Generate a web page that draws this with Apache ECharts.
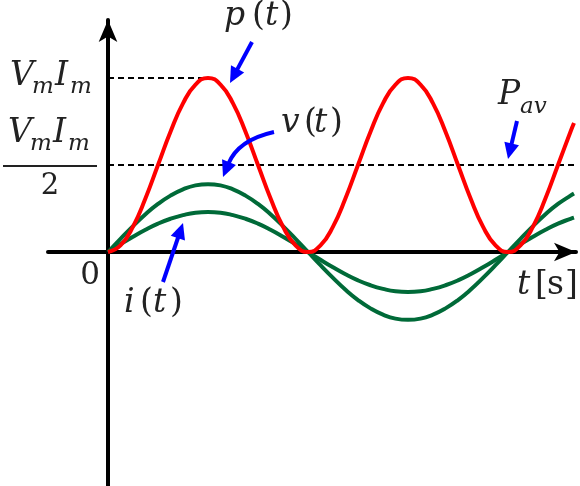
<!DOCTYPE html>
<html><head><meta charset="utf-8">
<script src="https://cdn.jsdelivr.net/npm/echarts@6/dist/echarts.min.js"></script>
<style>html,body{margin:0;padding:0;background:#fff}#c{width:580px;height:486px}</style>
</head><body><div id="c"></div>
<script>
// time samples (in quarter periods of v(t))
const tVals = [0,0.125,0.25,0.375,0.5,0.625,0.75,0.875,1,1.125,1.25,1.375,1.5,1.625,1.75,1.875,2,2.125,2.25,2.375,2.5,2.625,2.75,2.875,3,3.125,3.25,3.375,3.5,3.625,3.75,3.875,4,4.125,4.25,4.375,4.5,4.625,4.66];
// p(t) normalised to Vm*Im
const pVals = [0,0.038,0.146,0.309,0.5,0.691,0.854,0.962,1,0.962,0.854,0.691,0.5,0.309,0.146,0.038,0,0.038,0.146,0.309,0.5,0.691,0.854,0.962,1,0.962,0.854,0.691,0.5,0.309,0.146,0.038,0,0.038,0.146,0.309,0.5,0.691,0.741];
const vVals = [0,0.076,0.149,0.217,0.276,0.324,0.36,0.383,0.39,0.383,0.36,0.324,0.276,0.217,0.149,0.076,0,-0.076,-0.149,-0.217,-0.276,-0.324,-0.36,-0.383,-0.39,-0.383,-0.36,-0.324,-0.276,-0.217,-0.149,-0.076,0,0.076,0.149,0.217,0.276,0.324,0.336];
const iVals = [0,0.045,0.088,0.128,0.163,0.191,0.212,0.226,0.23,0.226,0.212,0.191,0.163,0.128,0.088,0.045,0,-0.045,-0.088,-0.128,-0.163,-0.191,-0.212,-0.226,-0.23,-0.226,-0.212,-0.191,-0.163,-0.128,-0.088,-0.045,0,0.045,0.088,0.128,0.163,0.191,0.198];
const peakLine = [[0,1],[1,1]];
const avgLine = [[0,0.5],[4.66,0.5]];

const zip = (ys) => tVals.map((t, k) => [t, ys[k]]);
const SERIF = 'DejaVu Serif';
const INK = '#222';
const BLUE = '#0000ff';
const GREEN = '#006a38';
const BIG = 33, SUB = 23;

function txt(str, x, base, size, italic, align) {
  return { type: 'text', x: x, y: base - 0.36 * size, z: 10,
    style: { text: str, font: (italic ? 'italic ' : 'normal ') + size + 'px ' + SERIF,
      fill: INK, align: align || 'left', verticalAlign: 'middle' } };
}
// function label f(t): [fx, parenX, tX, closeX]
function fnLabel(f, xs, base) {
  return [txt(f, xs[0], base, BIG, true), txt('(', xs[1], base, BIG, false),
          txt('t', xs[2], base, BIG, true), txt(')', xs[3], base, BIG, false)];
}
function arrow(tail, tip, ctrl) {
  const from = ctrl || tail;
  const dx = tip[0] - from[0], dy = tip[1] - from[1];
  const L = Math.hypot(dx, dy), ux = dx / L, uy = dy / L;
  const hl = 16, hw = 7.5;
  const bx = tip[0] - ux * hl, by = tip[1] - uy * hl;
  const els = [];
  if (ctrl) {
    els.push({ type: 'bezierCurve', z: 10, shape: { x1: tail[0], y1: tail[1], x2: bx + ux * 2, y2: by + uy * 2, cpx1: ctrl[0], cpy1: ctrl[1] },
      style: { stroke: BLUE, lineWidth: 4, fill: null } });
  } else {
    els.push({ type: 'line', z: 10, shape: { x1: tail[0], y1: tail[1], x2: bx + ux * 2, y2: by + uy * 2 },
      style: { stroke: BLUE, lineWidth: 4 } });
  }
  els.push({ type: 'polygon', z: 10, shape: { points: [tip, [bx - uy * hw, by + ux * hw], [bx + uy * hw, by - ux * hw]] },
    style: { fill: BLUE } });
  return els;
}

const graphics = [].concat(
  // Vm Im
  txt('V', 10, 88, BIG, true), txt('m', 32, 95, SUB, true), txt('I', 55, 88, BIG, true), txt('m', 70, 95, SUB, true),
  // Vm Im / 2
  txt('V', 8, 145, BIG, true), txt('m', 30, 152, SUB, true), txt('I', 53, 145, BIG, true), txt('m', 68, 152, SUB, true),
  [{ type: 'line', z: 10, shape: { x1: 3, y1: 166, x2: 97, y2: 166 }, style: { stroke: INK, lineWidth: 2 } }],
  txt('2', 50, 197, 29, false, 'center'),
  txt('0', 90, 287, 31, false, 'center'),
  fnLabel('p', [224, 252, 265, 280], 28),
  fnLabel('v', [281, 304, 314, 330], 135),
  fnLabel('i', [124, 140, 153, 170], 315),
  txt('t', 517, 297, BIG, true), txt('[', 535, 297, BIG, false), txt('s', 547, 297, BIG, false), txt(']', 565, 297, BIG, false),
  txt('P', 498, 107, BIG, true), txt('av', 520, 115, SUB, true),
  arrow([252, 42], [230, 83]),
  arrow([274, 132], [223, 177], [238, 140]),
  arrow([517, 121], [508, 159]),
  arrow([163, 282], [183, 223])
);

const axisCommon = {
  type: 'value',
  axisLine: { show: true, onZero: true, lineStyle: { color: '#000', width: 4 }, symbol: ['none', 'arrow'], symbolSize: [14, 22] },
  axisTick: { show: false }, axisLabel: { show: false }, splitLine: { show: false }
};
const lineSeries = (data, color, dashed, z) => ({
  type: 'line', data: data, symbol: 'none', smooth: !dashed, z: z, silent: true,
  lineStyle: dashed ? { color: '#000', width: 1.8, type: [6, 4] } : { color: color, width: 4 },
  clip: false
});

const chart = echarts.init(document.getElementById('c'), null, { renderer: 'canvas' });
chart.setOption({
  animation: false,
  backgroundColor: '#fff',
  grid: { left: 48, right: 4, top: 20, bottom: 0, containLabel: false },
  xAxis: Object.assign({}, axisCommon, { min: -0.6, max: 4.68 }),
  yAxis: Object.assign({}, axisCommon, { min: -1.3448, max: 1.3333 }),
  series: [
    lineSeries(peakLine, '#000', true, 1),
    lineSeries(avgLine, '#000', true, 1),
    lineSeries(zip(iVals), GREEN, false, 2),
    lineSeries(zip(vVals), GREEN, false, 2),
    lineSeries(zip(pVals), '#ff0000', false, 3)
  ],
  graphic: graphics
});
</script></body></html>
